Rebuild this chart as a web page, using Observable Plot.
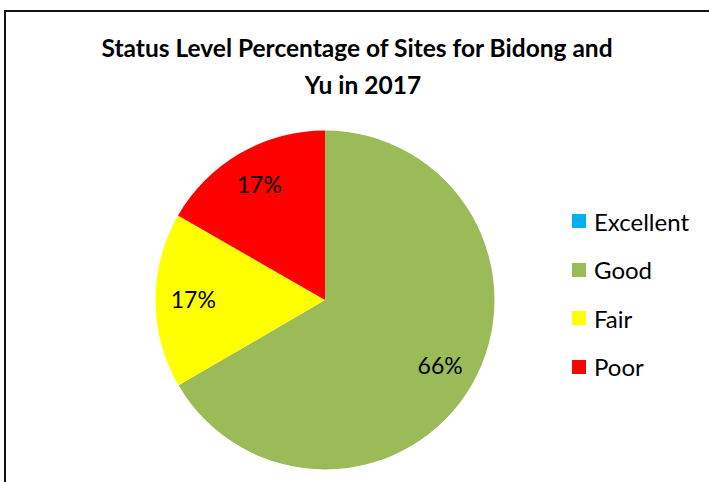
<!DOCTYPE html>
<html>
<head>
<meta charset="utf-8">
<script src="https://cdn.jsdelivr.net/npm/d3@7"></script>
<script src="https://cdn.jsdelivr.net/npm/@observablehq/plot@0.6"></script>
<style>
  html, body { margin: 0; padding: 0; background: #fff; overflow: hidden; }
  #wrap { position: relative; width: 709px; height: 482px; overflow: hidden; font-family: Lato, "Open Sans", sans-serif; }
  #frame { position: absolute; left: 4px; top: 10px; width: 800px; height: 600px; border: 2px solid #111; box-sizing: border-box; }
  #title { position: absolute; left: 0; width: 726px; top: 29px; text-align: center; font-weight: bold; font-size: 24.5px; line-height: 37px; color: #000; white-space: nowrap; }
  #legend { position: absolute; left: 572px; top: 197px; }
  .item { display: flex; align-items: center; height: 48.5px; font-size: 24px; color: #000; }
  .sw { width: 14px; height: 14px; margin-right: 8px; }
  #chart { position: absolute; left: 0; top: 0; }
</style>
</head>
<body>
<div id="wrap">
  <div id="frame"></div>
  <div id="chart"></div>
  <div id="title">Status Level Percentage of Sites for Bidong and&nbsp;&nbsp;<br>Yu in 2017</div>
  <div id="legend"></div>
</div>
<script>
const categories = ["Excellent", "Good", "Fair", "Poor"];
const values = [0, 66.6, 16.7, 16.7];
const labels = ["0%", "66%", "17%", "17%"];
const colors = ["#00B0F0", "#9BBB59", "#FFFF00", "#FF0000"];

const data = categories.map((c, i) => ({category: c, value: values[i], label: labels[i], color: colors[i]}));
const arcs = d3.pie().sort(null).value(d => d.value)(data);
const labelRadius = 0.78;
const labelData = arcs.filter(a => a.data.value > 0).map(a => {
  const m = (a.startAngle + a.endAngle) / 2;
  return {x: labelRadius * Math.sin(m), y: labelRadius * Math.cos(m), label: a.data.label};
});

function pieMark(index, scales, vals, dims) {
  const cx = scales.x(0), cy = scales.y(0);
  const r = scales.x(1) - scales.x(0);
  const g = d3.create("svg:g").attr("transform", `translate(${cx},${cy})`);
  const arc = d3.arc().innerRadius(0).outerRadius(r);
  g.selectAll("path").data(arcs).join("path")
    .attr("d", arc)
    .attr("fill", d => d.data.color);
  return g.node();
}

const cx = 325, cy = 300, R = 169.5;
const plot = Plot.plot({
  width: 709,
  height: 482,
  margin: 0,
  x: {domain: [-1, 1], range: [cx - R, cx + R], axis: null},
  y: {domain: [-1, 1], range: [cy + R, cy - R], axis: null},
  style: {background: "transparent", overflow: "visible"},
  marks: [
    pieMark,
    Plot.text(labelData, {x: "x", y: "y", text: "label", fontSize: 23, fill: "#000", fontFamily: "Lato, 'Open Sans', sans-serif"})
  ]
});
document.getElementById("chart").appendChild(plot);

const legend = d3.select("#legend");
data.forEach(d => {
  const it = legend.append("div").attr("class", "item");
  it.append("div").attr("class", "sw").style("background", d.color);
  it.append("span").text(d.category);
});
</script>
</body>
</html>
